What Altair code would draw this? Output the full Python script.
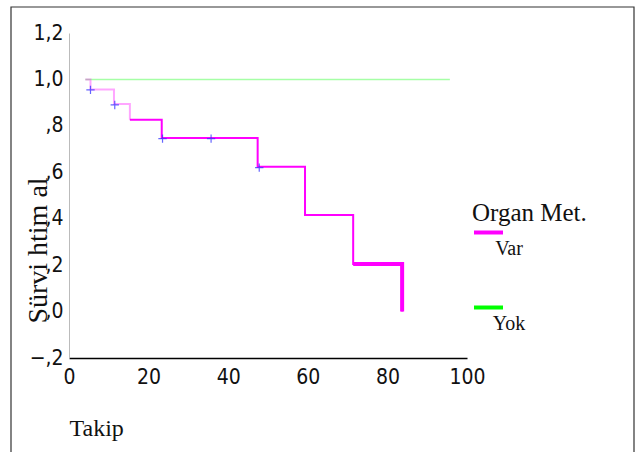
import altair as alt
import pandas as pd

# Kaplan-Meier steps (value after each time)
var_times = [4.1, 5.4, 11.3, 15.3, 23.3, 47.4, 59.3, 71.4, 83.7]
var_surv = [1.0, 0.957, 0.894, 0.826, 0.748, 0.624, 0.416, 0.205, 0.0]
yok_times = [4.1, 95.7]
yok_surv = [1.0, 1.0]
censor_times = [5.4, 11.5, 23.5, 35.7, 47.8]
censor_surv = [0.955, 0.89, 0.745, 0.745, 0.62]
groups = ["Var", "Yok"]
x_ticks = [0, 20, 40, 60, 80, 100]
y_ticks = [-0.2, 0.0, 0.2, 0.4, 0.6, 0.8, 1.0, 1.2]

curves = pd.DataFrame(
    {"t": var_times + yok_times,
     "s": var_surv + yok_surv,
     "g": [groups[0]] * len(var_times) + [groups[1]] * len(yok_times)}
)
cens = pd.DataFrame({"t": censor_times, "s": censor_surv})

SERIF = "Liberation Serif"
NARROW = "Liberation Sans Narrow, DejaVu Sans Condensed, sans-serif"

xs = alt.Scale(domain=[0, 100], nice=False, zero=False)
ys = alt.Scale(domain=[-0.2, 1.2], nice=False, zero=False)

x_enc = alt.X("t:Q", scale=xs, axis=alt.Axis(
    values=x_ticks, title="Takip", labelFont=NARROW, labelFontSize=21,
    labelPadding=8, ticks=False, domainColor="black", domainWidth=1.5,
    grid=False, labelFlush=False, labelColor="#111",
    titleFont=SERIF, titleFontSize=24, titleFontWeight="normal",
    titleX=0, titleY=70, titleAlign="left", titleBaseline="middle",
    titleColor="#111"))
y_enc = alt.Y("s:Q", scale=ys, axis=alt.Axis(
    values=y_ticks, title="Sürvi htim al", labelFont=NARROW, labelFontSize=21,
    labelPadding=6, ticks=False, domainColor="#bbbbbb", grid=False,
    labelColor="#111",
    labelExpr="replace(replace(format(datum.value, '.1f'), '0.', ','), '.', ',')",
    titleFont=SERIF, titleFontSize=28, titleFontWeight="normal",
    titleX=-23, titleY=217, titleAlign="center", titleBaseline="alphabetic",
    titleColor="#111"))
color = alt.Color("g:N", scale=alt.Scale(domain=groups, range=["#ff00ff", "#00ff00"]),
                  legend=alt.Legend(title="Organ Met.", orient="none",
                                    legendX=403, legendY=168,
                                    labelExpr="['', datum.label]"))

base = alt.Chart(curves).encode(x=x_enc, y=y_enc, color=color)

yok_line = base.transform_filter(alt.datum.g == groups[1]).mark_line(
    interpolate="step-after", strokeWidth=1.5, opacity=0.35)
var_early = base.transform_filter((alt.datum.g == groups[0]) & (alt.datum.t <= 15.3)).mark_line(
    interpolate="step-after", strokeWidth=2, opacity=0.35)
var_main = base.transform_filter((alt.datum.g == groups[0]) & (alt.datum.t >= 15.3)).mark_line(
    interpolate="step-after", strokeWidth=2)
var_tail = base.transform_filter((alt.datum.g == groups[0]) & (alt.datum.t >= 71.4)).mark_line(
    interpolate="step-after", strokeWidth=4)

cmarks = alt.Chart(cens).mark_point(
    shape="M-1,0H1M0,-1V1", size=70, filled=False, strokeWidth=1.2,
    color="#3333ff", opacity=0.75).encode(x=alt.X("t:Q", scale=xs), y=alt.Y("s:Q", scale=ys))

border = alt.Chart(alt.Data(values=[{}])).mark_rect(
    fillOpacity=0, stroke="#333333", strokeWidth=1.2).encode(
    x=alt.value(-58), x2=alt.value(565), y=alt.value(-26), y2=alt.value(440))

chart = alt.layer(border, yok_line, var_early, var_main, var_tail, cmarks).properties(
    width=398, height=325,
    autosize=alt.AutoSizeParams(type="none"),
    padding={"left": 69, "top": 33, "right": 175, "bottom": 94},
    background="white",
).configure_view(stroke=None).configure_legend(
    titleFont=SERIF, titleFontSize=25, titleFontWeight="normal", titleColor="#111",
    labelFont=SERIF, labelFontSize=20, labelColor="#111",
    symbolType="stroke", symbolSize=841, symbolStrokeWidth=4, symbolOpacity=1,
    labelOffset=4, labelBaseline="alphabetic", labelAlign="center",
    rowPadding=32, titlePadding={"expr": "-10"}, padding=0,
)

chart.save("out.html", embed_options={"renderer": "svg", "actions": False})
